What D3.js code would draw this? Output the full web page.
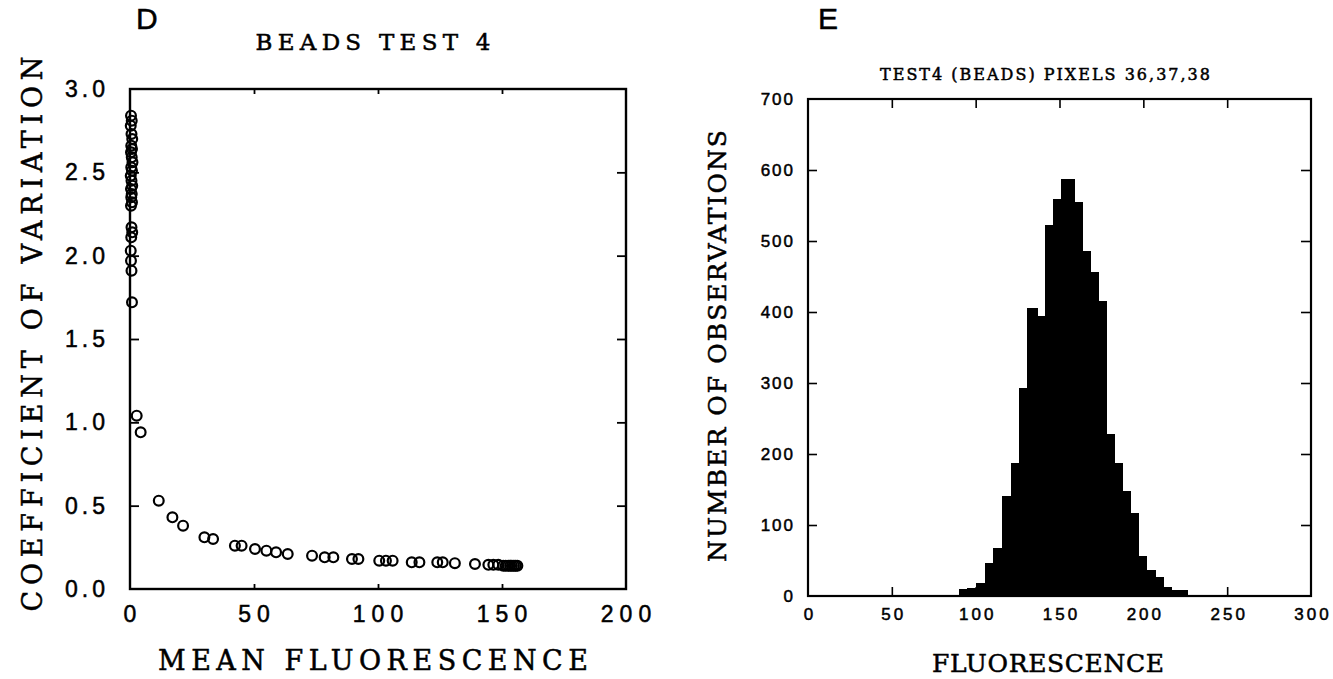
<!DOCTYPE html>
<html>
<head>
    <meta charset="utf-8">
    <script src="https://d3js.org/d3.v7.min.js"></script>
    <style>
        body { margin: 0; background: #fff; }
        svg { display: block; }
        text { stroke: #000; stroke-width: 0.5px; }
    </style>
</head>
<body>
<svg width="1333" height="679"></svg>
<script>

    // panel D: coefficient of variation vs mean fluorescence
    var meanFluor = [0.4, 0.7, 0.3, 0.6, 0.9, 0.5, 0.8, 0.4, 0.7, 1.0, 0.5, 0.8, 0.3, 0.6, 0.9, 0.4, 0.7, 0.5, 0.8, 0.4,
                     0.6, 0.9, 0.5, 0.3, 0.4, 0.6, 0.8,
                     2.7, 4.3, 11.6, 17.1, 21.4, 30.0, 33.5, 42.3, 45.0, 50.4, 55.0, 58.9, 63.6,
                     73.4, 78.5, 82.0, 89.5, 92.1, 100.5, 103.2, 105.9, 113.6, 116.7, 123.9, 126.1, 131.0,
                     139.1, 144.5, 146.5, 148.5, 150.5, 151.5, 152.5, 153.3, 154.0, 154.8, 155.5, 156.2];
    var coefVar = [2.84, 2.81, 2.78, 2.73, 2.70, 2.66, 2.64, 2.62, 2.59, 2.56, 2.53, 2.51, 2.48, 2.45, 2.42, 2.40, 2.37, 2.35, 2.32, 2.30,
                   2.17, 2.14, 2.11, 2.03, 1.97, 1.91, 1.72,
                   1.04, 0.94, 0.53, 0.43, 0.38, 0.31, 0.30, 0.26, 0.26, 0.24, 0.23, 0.22, 0.21,
                   0.20, 0.19, 0.19, 0.18, 0.18, 0.17, 0.17, 0.17, 0.16, 0.16, 0.16, 0.16, 0.155,
                   0.15, 0.145, 0.145, 0.145, 0.14, 0.14, 0.14, 0.14, 0.14, 0.14, 0.14, 0.14];
    var dXTicks = [0, 50, 100, 150, 200];
    var dYTicks = [0, 0.5, 1.0, 1.5, 2.0, 2.5, 3.0];

    // panel E: histogram of fluorescence
    var binEdges = [90, 95, 100.4, 105.4, 110.4, 115.8, 121, 126, 130.7, 136.7, 141.2, 146.3, 151, 158.6,
                    163.6, 168.4, 173.2, 177.7, 182.5, 187.5, 192, 196.8, 201.8, 206.8, 211.8, 216.8, 221.8, 226];
    var counts = [10, 11, 19, 47, 68, 141, 188, 293, 405, 395, 522, 559, 587, 555,
                  486, 457, 416, 228, 188, 148, 117, 56, 37, 27, 13, 8, 9];
    var eXTicks = [0, 50, 100, 150, 200, 250, 300];
    var eYTicks = [0, 100, 200, 300, 400, 500, 600, 700];

    var svg = d3.select("svg");
    var serif = "'DejaVu Serif', 'Liberation Serif', serif";
    var sans = "'Liberation Sans', Arial, sans-serif";

    function frame(g, w, h, sw) {
        g.append("rect")
            .attr("width", w).attr("height", h)
            .attr("fill", "none").attr("stroke", "#000").attr("stroke-width", sw);
    }

    // text stretched to the width it has in the figure
    function label(x, y, rot, size, len, str) {
        return svg.append("text")
            .attr("transform", "translate(" + x + "," + y + ")" + (rot ? " rotate(-90)" : ""))
            .attr("text-anchor", "middle")
            .attr("font-family", serif)
            .attr("font-size", size)
            .attr("textLength", len)
            .attr("lengthAdjust", "spacing")
            .text(str);
    }

    // ---------- panel D ----------
    var dx = d3.scaleLinear().domain([0, 200]).range([130, 626]),
        dy = d3.scaleLinear().domain([0, 3]).range([589, 89]);

    var gd = svg.append("g");

    gd.selectAll(".pt")
        .data(meanFluor)
        .enter().append("circle")
        .attr("class", "pt")
        .attr("cx", function(d) { return dx(d); })
        .attr("cy", function(d, i) { return dy(coefVar[i]); })
        .attr("r", 4.9)
        .attr("fill", "none")
        .attr("stroke", "#000")
        .attr("stroke-width", 2.2);

    var fd = gd.append("g").attr("transform", "translate(130,89)");
    frame(fd, 496, 500, 2.4);

    // inward ticks
    gd.append("g").attr("transform", "translate(0,589)")
        .call(d3.axisTop(dx).tickValues(dXTicks.slice(1, -1)).tickSize(5).tickFormat(""))
        .call(function(g) { g.select(".domain").remove(); });
    gd.append("g").attr("transform", "translate(0,89)")
        .call(d3.axisBottom(dx).tickValues(dXTicks.slice(1, -1)).tickSize(5).tickFormat(""))
        .call(function(g) { g.select(".domain").remove(); });
    gd.append("g").attr("transform", "translate(130,0)")
        .call(d3.axisRight(dy).tickValues(dYTicks.slice(1, -1)).tickSize(9).tickFormat(""))
        .call(function(g) { g.select(".domain").remove(); });
    gd.append("g").attr("transform", "translate(626,0)")
        .call(d3.axisLeft(dy).tickValues(dYTicks.slice(1, -1)).tickSize(9).tickFormat(""))
        .call(function(g) { g.select(".domain").remove(); });
    gd.selectAll(".tick line").attr("stroke", "#000").attr("stroke-width", 1.8);

    gd.selectAll(".xlab")
        .data(dXTicks)
        .enter().append("text")
        .attr("x", function(d) { return dx(d) + 3; })
        .attr("y", 622)
        .attr("text-anchor", "middle")
        .attr("font-family", sans)
        .attr("font-size", 23)
        .attr("letter-spacing", 6)
        .text(function(d) { return d; });

    gd.selectAll(".ylab")
        .data(dYTicks)
        .enter().append("text")
        .attr("x", 109)
        .attr("y", function(d) { return dy(d) + 8; })
        .attr("text-anchor", "end")
        .attr("font-family", sans)
        .attr("font-size", 23)
        .attr("letter-spacing", 4)
        .text(function(d) { return d.toFixed(1); });

    svg.append("text").attr("x", 136).attr("y", 29)
        .attr("font-family", sans).attr("font-size", 30)
        .text("D");
    label(373, 50, false, 23, 235, "BEADS TEST 4");
    label(373, 670, false, 27, 430, "MEAN FLUORESCENCE");
    label(42, 334, true, 27, 555, "COEFFICIENT OF VARIATION");

    // ---------- panel E ----------
    var ex = d3.scaleLinear().domain([0, 300]).range([808, 1311]),
        ey = d3.scaleLinear().domain([0, 700]).range([596, 99]);

    var ge = svg.append("g");

    ge.selectAll(".bar")
        .data(counts)
        .enter().append("rect")
        .attr("class", "bar")
        .attr("x", function(d, i) { return ex(binEdges[i]); })
        .attr("width", function(d, i) { return ex(binEdges[i + 1]) - ex(binEdges[i]) + 0.8; })
        .attr("y", function(d) { return ey(d); })
        .attr("height", function(d) { return ey(0) - ey(d); })
        .attr("fill", "#000")
        .attr("shape-rendering", "crispEdges");

    var fe = ge.append("g").attr("transform", "translate(808,99)");
    frame(fe, 503, 497, 2.2);

    ge.append("g").attr("transform", "translate(0,596)")
        .call(d3.axisTop(ex).tickValues(eXTicks.slice(1, -1)).tickSize(9).tickFormat(""))
        .call(function(g) { g.select(".domain").remove(); });
    ge.append("g").attr("transform", "translate(0,99)")
        .call(d3.axisBottom(ex).tickValues(eXTicks.slice(1, -1)).tickSize(9).tickFormat(""))
        .call(function(g) { g.select(".domain").remove(); });
    ge.append("g").attr("transform", "translate(808,0)")
        .call(d3.axisRight(ey).tickValues(eYTicks.slice(1, -1)).tickSize(9).tickFormat(""))
        .call(function(g) { g.select(".domain").remove(); });
    ge.append("g").attr("transform", "translate(1311,0)")
        .call(d3.axisLeft(ey).tickValues(eYTicks.slice(1, -1)).tickSize(10).tickFormat(""))
        .call(function(g) { g.select(".domain").remove(); });
    ge.selectAll(".tick line").attr("stroke", "#000").attr("stroke-width", 1.6);

    ge.selectAll(".xlab")
        .data(eXTicks)
        .enter().append("text")
        .attr("x", function(d) { return ex(d) + 2; })
        .attr("y", 620)
        .attr("text-anchor", "middle")
        .attr("font-family", sans)
        .attr("font-size", 17)
        .attr("letter-spacing", 3)
        .text(function(d) { return d; });

    ge.selectAll(".ylab")
        .data(eYTicks)
        .enter().append("text")
        .attr("x", 795)
        .attr("y", function(d) { return ey(d) + 6; })
        .attr("text-anchor", "end")
        .attr("font-family", sans)
        .attr("font-size", 17)
        .attr("letter-spacing", 2)
        .text(function(d) { return d; });

    svg.append("text").attr("x", 818).attr("y", 29)
        .attr("font-family", sans).attr("font-size", 30)
        .text("E");
    label(1045, 80, false, 16, 330, "TEST4 (BEADS) PIXELS 36,37,38");
    label(1048, 672, false, 25, 232, "FLUORESCENCE");
    label(726, 346, true, 25, 432, "NUMBER OF OBSERVATIONS");

</script>
</body>
</html>
